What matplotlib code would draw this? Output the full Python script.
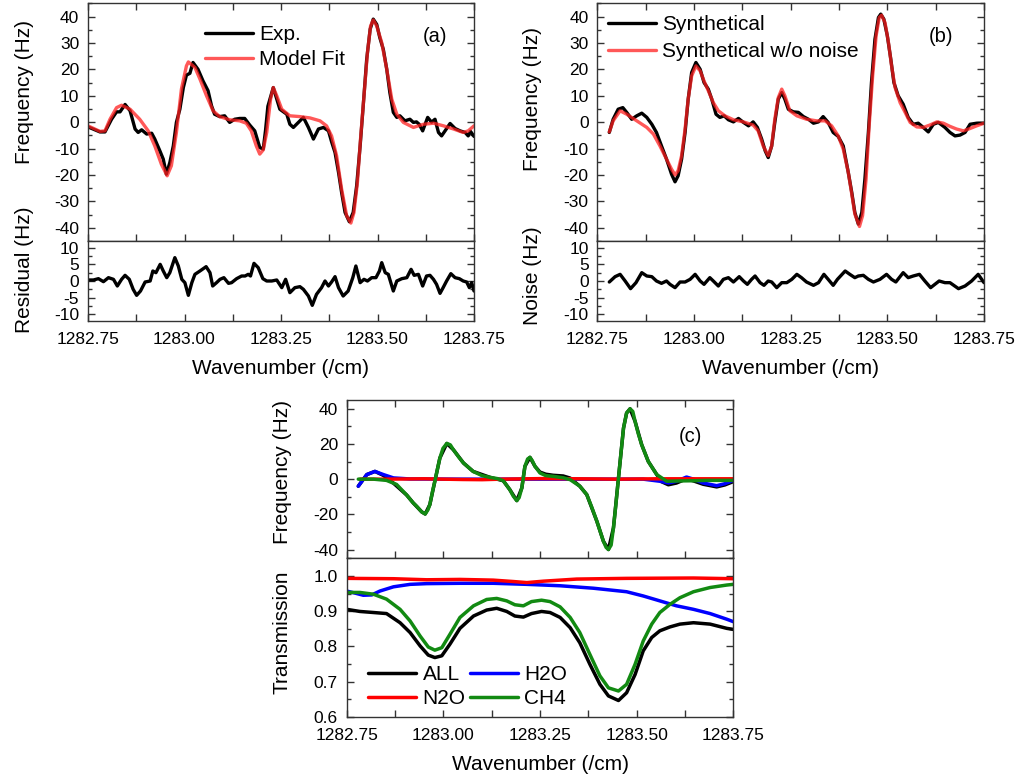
import numpy as np
import matplotlib
matplotlib.use('Agg')
import matplotlib.pyplot as plt
from matplotlib.ticker import MultipleLocator, FormatStrFormatter

# ---------------- data ----------------
# (a) experiment vs model fit
a_exp_x = [1282.750, 1282.781, 1282.794, 1282.811, 1282.824, 1282.833, 1282.846, 1282.859, 1282.872, 1282.880,
           1282.889, 1282.902, 1282.915, 1282.923, 1282.936, 1282.945, 1282.953, 1282.962, 1282.971, 1282.979,
           1282.988, 1282.997, 1283.005, 1283.014, 1283.022, 1283.035, 1283.048, 1283.061, 1283.070, 1283.078,
           1283.091, 1283.104, 1283.117, 1283.130, 1283.143, 1283.156, 1283.169, 1283.182, 1283.195, 1283.204,
           1283.210, 1283.216, 1283.230, 1283.247, 1283.265, 1283.273, 1283.282, 1283.295, 1283.308, 1283.321,
           1283.334, 1283.347, 1283.360, 1283.373, 1283.381, 1283.390, 1283.399, 1283.407, 1283.416, 1283.427,
           1283.437, 1283.446, 1283.455, 1283.463, 1283.472, 1283.481, 1283.489, 1283.498, 1283.506, 1283.515,
           1283.524, 1283.532, 1283.541, 1283.550, 1283.558, 1283.571, 1283.584, 1283.593, 1283.601, 1283.608,
           1283.617, 1283.630, 1283.640, 1283.649, 1283.658, 1283.666, 1283.675, 1283.688, 1283.701, 1283.714,
           1283.727, 1283.735, 1283.741, 1283.750]
a_exp_y = [-1.8, -3.7, -3.7, 1.1, 3.9, 3.9, 6.7, 4.3, -2.6, -3.9,
           -2.9, -4.5, -4.2, -6.4, -10.8, -14.0, -19.7, -15.3, -9.0, -0.1,
           4.9, 13.1, 17.8, 18.5, 22.6, 20.0, 15.6, 11.9, 6.2, 3.0,
           2.1, 2.4, -0.1, 1.1, 1.4, 1.4, -1.1, -3.3, -9.6, -10.2,
           -3.0, 6.0, 13.1, 4.9, 3.0, -0.8, -2.0, -0.1, 1.8, -2.0,
           -6.4, -2.6, -2.0, -3.3, -7.4, -11.5, -19.0, -26.6, -34.2, -37.7,
           -34.2, -24.1, -9.0, 6.2, 23.8, 35.2, 39.0, 37.0, 32.0, 27.6,
           20.0, 11.2, 3.7, 1.8, 2.4, 0.5, 1.1, -0.1, 0.1, -0.8,
           -3.3, 1.8, 0.0, 1.1, -3.9, -5.2, -3.3, -0.5, -2.4, -3.3,
           -3.9, -5.2, -3.5, -5.4]

a_fit_x = [1282.750, 1282.781, 1282.794, 1282.807, 1282.824, 1282.837, 1282.859, 1282.884, 1282.906, 1282.923,
           1282.940, 1282.955, 1282.966, 1282.979, 1282.992, 1283.005, 1283.010, 1283.027, 1283.040, 1283.057,
           1283.074, 1283.091, 1283.117, 1283.143, 1283.160, 1283.173, 1283.186, 1283.195, 1283.204, 1283.213,
           1283.223, 1283.230, 1283.239, 1283.252, 1283.273, 1283.299, 1283.325, 1283.351, 1283.368, 1283.381,
           1283.394, 1283.407, 1283.420, 1283.431, 1283.439, 1283.448, 1283.456, 1283.465, 1283.474, 1283.482,
           1283.489, 1283.498, 1283.511, 1283.524, 1283.537, 1283.550, 1283.567, 1283.593, 1283.619, 1283.645,
           1283.671, 1283.697, 1283.722, 1283.735, 1283.750]
a_fit_y = [-1.4, -3.5, -3.3, 1.1, 5.5, 6.4, 4.9, 1.1, -3.3, -9.0,
           -15.9, -20.3, -16.5, -3.9, 12.5, 21.3, 22.8, 20.7, 16.3, 10.0,
           4.3, 2.1, 0.9, 0.5, -0.4, -3.3, -9.0, -12.1, -10.5, -3.9,
           8.7, 13.1, 10.0, 4.9, 2.4, 2.1, 1.6, 0.5, -1.4, -5.2,
           -12.7, -25.3, -35.4, -38.2, -34.2, -22.8, -6.4, 10.0, 26.4, 36.4,
           38.7, 36.4, 30.1, 20.0, 8.7, 3.0, -0.1, -2.0, -0.8, -0.4,
           -1.4, -2.6, -3.9, -3.3, -1.4]

a_res_x = [1282.750, 1282.764, 1282.777, 1282.790, 1282.803, 1282.816, 1282.826, 1282.837, 1282.846, 1282.857,
           1282.867, 1282.876, 1282.886, 1282.898, 1282.911, 1282.918, 1282.926, 1282.937, 1282.945, 1282.954,
           1282.962, 1282.975, 1282.984, 1282.993, 1283.001, 1283.010, 1283.019, 1283.027, 1283.040, 1283.056,
           1283.066, 1283.073, 1283.083, 1283.092, 1283.102, 1283.114, 1283.122, 1283.135, 1283.148, 1283.157,
           1283.165, 1283.171, 1283.180, 1283.191, 1283.203, 1283.213, 1283.226, 1283.239, 1283.252, 1283.262,
           1283.273, 1283.286, 1283.299, 1283.308, 1283.321, 1283.331, 1283.342, 1283.355, 1283.364, 1283.373,
           1283.381, 1283.390, 1283.399, 1283.411, 1283.424, 1283.436, 1283.444, 1283.455, 1283.465, 1283.474,
           1283.485, 1283.496, 1283.505, 1283.511, 1283.520, 1283.528, 1283.541, 1283.550, 1283.563, 1283.576,
           1283.587, 1283.595, 1283.606, 1283.617, 1283.627, 1283.636, 1283.645, 1283.653, 1283.662, 1283.670,
           1283.679, 1283.690, 1283.701, 1283.712, 1283.722, 1283.731, 1283.738, 1283.744, 1283.750]
a_res_y = [0.3, 0.3, 0.7, -0.2, 1.0, 0.5, -1.5, 0.5, 1.7, 0.5,
           -2.5, -4.3, -3.0, -0.3, 0.0, 3.0, 2.5, 5.0, 3.0, 1.0,
           2.5, 7.0, 4.5, 0.5, -0.5, -4.3, -0.5, 2.0, 3.0, 4.3,
           2.5, -1.5, -0.5, 0.5, 1.0, -0.7, -0.5, 0.7, 1.5, 1.5,
           2.0, 1.5, 5.3, 4.0, 0.7, 0.0, 0.0, 0.3, -2.0, 0.5,
           -3.5, -2.0, -1.7, -2.5, -4.5, -7.3, -4.0, -2.0, 0.0, -1.5,
           -0.3, 1.3, -2.0, -4.5, -3.0, 1.0, 4.5, -0.5, 0.5, 0.0,
           1.0, 1.0, 3.0, 5.5, 2.5, 2.0, -3.0, 0.0, 0.7, 1.0,
           3.5, 1.7, 2.0, -1.5, 1.5, 1.7, 0.5, -1.0, -3.7, -2.0,
           0.0, 2.2, 1.0, 0.7, 0.0, -0.3, -2.0, -0.5, -3.0]

# (b) synthetic data
b_syn_x = [1282.781, 1282.791, 1282.804, 1282.816, 1282.826, 1282.839, 1282.852, 1282.865, 1282.878, 1282.891,
           1282.903, 1282.916, 1282.929, 1282.942, 1282.951, 1282.959, 1282.968, 1282.977, 1282.985, 1282.994,
           1283.005, 1283.016, 1283.026, 1283.037, 1283.046, 1283.057, 1283.067, 1283.078, 1283.089, 1283.102,
           1283.115, 1283.128, 1283.141, 1283.153, 1283.164, 1283.175, 1283.184, 1283.192, 1283.201, 1283.209,
           1283.218, 1283.227, 1283.235, 1283.244, 1283.257, 1283.270, 1283.283, 1283.296, 1283.309, 1283.322,
           1283.334, 1283.347, 1283.360, 1283.373, 1283.386, 1283.399, 1283.408, 1283.416, 1283.425, 1283.434,
           1283.442, 1283.451, 1283.459, 1283.468, 1283.477, 1283.483, 1283.491, 1283.500, 1283.509, 1283.517,
           1283.528, 1283.541, 1283.554, 1283.567, 1283.580, 1283.593, 1283.606, 1283.619, 1283.632, 1283.649,
           1283.662, 1283.675, 1283.688, 1283.701, 1283.714, 1283.731, 1283.750]
b_syn_y = [-3.9, 1.1, 4.9, 5.5, 3.7, 1.1, 2.4, 3.4, 1.8, -0.8,
           -3.9, -9.0, -14.0, -19.7, -22.6, -20.3, -14.0, -3.9, 8.7, 18.8,
           22.6, 20.0, 15.0, 12.5, 8.7, 3.0, 1.8, 2.4, 0.9, 0.1,
           1.4, -0.1, -1.4, 0.1, -2.0, -6.4, -10.8, -13.4, -9.0, -0.1,
           8.7, 11.2, 8.7, 4.9, 3.9, 3.7, 2.1, 1.1, -0.4, 0.1,
           2.1, -0.1, -3.9, -5.4, -9.0, -19.0, -26.6, -34.2, -38.6, -34.2,
           -21.6, -3.9, 15.0, 31.4, 39.6, 40.9, 39.0, 32.7, 23.8, 15.0,
           10.0, 6.8, 1.8, -0.8, -0.4, -2.0, -3.7, -0.8, -0.1, -2.0,
           -3.9, -5.2, -4.9, -3.9, -0.8, -0.4, -0.4]

b_clean_x = [1282.781, 1282.791, 1282.809, 1282.826, 1282.852, 1282.878, 1282.895, 1282.912, 1282.929, 1282.942,
             1282.951, 1282.959, 1282.968, 1282.977, 1282.985, 1282.994, 1283.005, 1283.016, 1283.026, 1283.037,
             1283.050, 1283.063, 1283.080, 1283.102, 1283.128, 1283.153, 1283.166, 1283.179, 1283.192, 1283.201,
             1283.209, 1283.218, 1283.227, 1283.235, 1283.248, 1283.266, 1283.291, 1283.317, 1283.339, 1283.356,
             1283.373, 1283.386, 1283.399, 1283.408, 1283.416, 1283.428, 1283.436, 1283.445, 1283.453, 1283.462,
             1283.471, 1283.479, 1283.485, 1283.494, 1283.503, 1283.511, 1283.520, 1283.533, 1283.546, 1283.559,
             1283.576, 1283.593, 1283.610, 1283.628, 1283.645, 1283.662, 1283.679, 1283.697, 1283.714, 1283.731,
             1283.750]
b_clean_y = [-3.7, 0.5, 4.3, 3.0, 0.5, -2.0, -4.5, -9.0, -14.0, -17.8,
             -20.0, -18.4, -12.7, -2.6, 8.7, 17.5, 21.3, 19.4, 15.6, 11.9,
             7.4, 4.3, 2.4, 0.9, 0.1, -1.1, -3.3, -9.0, -12.7, -9.0,
             1.1, 9.3, 12.5, 10.0, 4.3, 2.4, 1.1, 0.5, 0.5, -1.4,
             -5.2, -10.2, -19.0, -27.2, -34.8, -39.5, -35.4, -21.6, -1.4, 17.5,
             32.7, 39.6, 40.5, 37.7, 30.1, 21.3, 13.1, 7.4, 3.7, -0.1,
             -1.8, -2.0, -1.1, 0.1, -0.4, -1.6, -2.6, -3.3, -2.4, -1.4,
             -0.4]

b_noise_x = [1282.781, 1282.796, 1282.809, 1282.822, 1282.836, 1282.850, 1282.865, 1282.878, 1282.891, 1282.903,
             1282.916, 1282.929, 1282.938, 1282.951, 1282.964, 1282.977, 1282.990, 1283.003, 1283.016, 1283.026,
             1283.041, 1283.050, 1283.063, 1283.076, 1283.089, 1283.102, 1283.117, 1283.128, 1283.138, 1283.149,
             1283.158, 1283.171, 1283.181, 1283.192, 1283.201, 1283.214, 1283.227, 1283.240, 1283.253, 1283.266,
             1283.278, 1283.291, 1283.309, 1283.322, 1283.336, 1283.347, 1283.360, 1283.371, 1283.391, 1283.403,
             1283.416, 1283.425, 1283.438, 1283.451, 1283.464, 1283.481, 1283.498, 1283.511, 1283.522, 1283.541,
             1283.554, 1283.567, 1283.583, 1283.597, 1283.612, 1283.623, 1283.634, 1283.649, 1283.662, 1283.684,
             1283.701, 1283.718, 1283.735, 1283.750]
b_noise_y = [-0.3, 1.3, 2.0, 0.0, -2.3, -0.5, 2.5, 1.5, 1.3, 0.0,
             -0.7, 0.0, -1.0, -2.0, -0.3, -0.3, 0.5, 2.0, 0.0, -1.0,
             1.0, 0.0, -1.5, 0.5, 1.0, -0.3, 1.3, 0.0, -1.0, 0.5,
             1.5, -0.5, -1.3, 0.0, -0.3, -2.0, -0.5, -0.5, 0.5, 2.0,
             1.0, -0.3, -1.3, -0.5, 2.0, 0.5, -1.3, 0.5, 3.0, 2.0,
             1.0, 1.5, 1.7, 0.5, -0.3, 0.5, 2.0, 0.5, -0.3, 2.5,
             1.0, 1.5, 2.0, 0.0, -2.0, -1.0, 0.0, -0.5, -0.5, -2.3,
             -1.5, 0.0, 2.0, -0.5]

# (c) components: frequency
c_ch4_x = [1282.780, 1282.819, 1282.853, 1282.879, 1282.905, 1282.922, 1282.931, 1282.944, 1282.953, 1282.960,
           1282.965, 1282.972, 1282.978, 1282.985, 1282.991, 1282.999, 1283.009, 1283.018, 1283.026, 1283.040,
           1283.052, 1283.077, 1283.100, 1283.121, 1283.140, 1283.155, 1283.172, 1283.181, 1283.190, 1283.196,
           1283.203, 1283.211, 1283.218, 1283.224, 1283.230, 1283.237, 1283.250, 1283.265, 1283.284, 1283.310,
           1283.328, 1283.353, 1283.371, 1283.384, 1283.397, 1283.414, 1283.421, 1283.427, 1283.434, 1283.440,
           1283.446, 1283.453, 1283.460, 1283.466, 1283.474, 1283.483, 1283.490, 1283.496, 1283.504, 1283.513,
           1283.530, 1283.552, 1283.578, 1283.612, 1283.647, 1283.681, 1283.716, 1283.750]
c_ch4_y = [0.0, 0.0, -0.7, -3.0, -9.0, -13.5, -15.4, -18.6, -19.8, -17.5,
           -14.5, -7.0, -1.2, 6.0, 12.0, 17.5, 20.3, 19.5, 16.7, 12.5,
           9.2, 4.4, 2.0, 1.0, 0.3, -0.9, -6.0, -9.7, -12.2, -10.5,
           -5.0, 7.3, 11.5, 12.4, 10.5, 7.3, 3.5, 2.0, 1.6, 0.8,
           -0.3, -4.0, -8.8, -16.0, -23.9, -35.3, -38.8, -40.0, -37.5, -27.7,
           -15.0, 0.7, 16.0, 29.0, 37.6, 40.0, 38.5, 32.8, 26.0, 19.6,
           10.1, 2.6, -1.2, -1.0, -0.9, -0.7, -0.7, -0.7]

c_all_x = [1282.780, 1282.802, 1282.823, 1282.845, 1282.871, 1282.905, 1282.922, 1282.944, 1282.953, 1282.965,
           1282.978, 1282.991, 1283.009, 1283.026, 1283.052, 1283.077, 1283.121, 1283.155, 1283.172, 1283.190,
           1283.203, 1283.211, 1283.224, 1283.237, 1283.250, 1283.265, 1283.284, 1283.310, 1283.328, 1283.353,
           1283.371, 1283.397, 1283.414, 1283.427, 1283.440, 1283.453, 1283.466, 1283.474, 1283.483, 1283.496,
           1283.513, 1283.530, 1283.552, 1283.565, 1283.582, 1283.603, 1283.629, 1283.647, 1283.672, 1283.707,
           1283.728, 1283.750]
c_all_y = [-4.0, 2.6, 4.4, 2.1, -2.3, -9.0, -13.5, -18.6, -19.8, -14.5,
           -1.2, 12.0, 20.3, 16.7, 9.2, 4.4, 1.0, -0.9, -6.0, -12.2,
           -5.0, 7.3, 12.4, 7.3, 4.0, 2.8, 2.2, 1.8, 0.6, -4.0,
           -8.8, -23.9, -35.3, -40.0, -27.7, 0.7, 29.0, 37.6, 40.0, 32.8,
           19.6, 10.1, 2.6, -1.5, -3.2, -2.2, 0.2, -1.0, -2.9, -4.4,
           -3.3, -1.4]

c_h2o_x = [1282.780, 1282.802, 1282.823, 1282.845, 1282.871, 1282.914, 1283.043, 1283.216, 1283.388, 1283.517,
           1283.560, 1283.582, 1283.603, 1283.629, 1283.647, 1283.672, 1283.707, 1283.728, 1283.750]
c_h2o_y = [-4.0, 2.6, 4.4, 2.6, 0.7, 0.1, 0.0, 0.0, 0.0, 0.0,
           -1.2, -2.2, -1.2, 1.2, 0.0, -2.2, -3.7, -2.6, -0.7]

c_n2o_x = [1282.785, 1282.850, 1282.950, 1283.050, 1283.100, 1283.150, 1283.250, 1283.350, 1283.450, 1283.550,
           1283.650, 1283.750]
c_n2o_y = [0.0, 0.0, 0.2, -0.2, -0.3, 0.0, 0.3, 0.2, 0.0, 0.2, 0.2, 0.2]

# (c) components: transmission
t_n2o_x = [1282.750, 1282.871, 1282.957, 1283.043, 1283.129, 1283.181, 1283.216, 1283.259, 1283.345, 1283.474,
           1283.647, 1283.750]
t_n2o_y = [0.993, 0.992, 0.989, 0.990, 0.988, 0.984, 0.981, 0.985, 0.991, 0.993, 0.994, 0.992]

t_h2o_x = [1282.750, 1282.772, 1282.793, 1282.815, 1282.836, 1282.871, 1282.914, 1282.957, 1283.043, 1283.129,
           1283.216, 1283.302, 1283.388, 1283.431, 1283.474, 1283.517, 1283.560, 1283.603, 1283.647, 1283.690,
           1283.733, 1283.750]
t_h2o_y = [0.957, 0.951, 0.945, 0.946, 0.957, 0.969, 0.976, 0.978, 0.979, 0.979,
           0.976, 0.972, 0.965, 0.960, 0.955, 0.943, 0.929, 0.915, 0.905, 0.893,
           0.877, 0.870]

t_x = [1282.750, 1282.784, 1282.819, 1282.853, 1282.888, 1282.914, 1282.940, 1282.961, 1282.978, 1282.996,
       1283.017, 1283.043, 1283.078, 1283.112, 1283.138, 1283.164, 1283.185, 1283.207, 1283.228, 1283.254,
       1283.276, 1283.302, 1283.328, 1283.353, 1283.379, 1283.405, 1283.427, 1283.453, 1283.474, 1283.496,
       1283.517, 1283.539, 1283.560, 1283.586, 1283.612, 1283.647, 1283.690, 1283.733, 1283.750]
t_ch4_y = [0.953, 0.953, 0.948, 0.934, 0.905, 0.872, 0.829, 0.798, 0.789, 0.796,
           0.834, 0.882, 0.915, 0.933, 0.936, 0.929, 0.918, 0.915, 0.927, 0.931,
           0.927, 0.912, 0.882, 0.839, 0.777, 0.716, 0.682, 0.673, 0.692, 0.749,
           0.815, 0.863, 0.896, 0.919, 0.938, 0.955, 0.967, 0.974, 0.976]
t_all_y = [0.905, 0.899, 0.896, 0.893, 0.867, 0.839, 0.801, 0.775, 0.768, 0.773,
           0.806, 0.851, 0.886, 0.903, 0.908, 0.899, 0.886, 0.883, 0.893, 0.899,
           0.896, 0.882, 0.853, 0.810, 0.749, 0.692, 0.659, 0.646, 0.668, 0.720,
           0.787, 0.825, 0.844, 0.855, 0.863, 0.867, 0.863, 0.851, 0.848]

# ---------------- figure ----------------
plt.rcParams['font.family'] = ['Liberation Sans', 'DejaVu Sans']
plt.rcParams['axes.unicode_minus'] = False
plt.rcParams['lines.solid_joinstyle'] = 'round'
plt.rcParams['lines.solid_capstyle'] = 'round'

W, H = 1018, 780
fig = plt.figure(figsize=(W / 100, H / 100), dpi=100)


def rect(l, t, r, b):
    return [l / W, 1 - b / H, (r - l) / W, (b - t) / H]


SPINE = '#333333'
RED = '#ff2020'


def style(ax, top_ticks=True, bottom_labels=False):
    ax.set_xlim(1282.75, 1283.75)
    ax.xaxis.set_major_locator(MultipleLocator(0.25))
    ax.xaxis.set_minor_locator(MultipleLocator(0.125))
    ax.xaxis.set_major_formatter(FormatStrFormatter('%.2f'))
    ax.tick_params(which='both', direction='in', top=top_ticks, right=True, bottom=True, left=True,
                   labelsize=12.5, width=1, color=SPINE)
    ax.tick_params(which='major', length=5)
    ax.tick_params(which='minor', length=3)
    ax.tick_params(axis='x', which='minor', length=5)
    ax.tick_params(axis='x', pad=8)
    ax.tick_params(axis='y', pad=6.3)
    ax.tick_params(labelbottom=bottom_labels)
    for s in ax.spines.values():
        s.set_linewidth(1.0)
        s.set_color(SPINE)


ax_a = fig.add_axes(rect(88, 3.3, 474, 241))
ax_ar = fig.add_axes(rect(88, 241, 474, 321))
ax_b = fig.add_axes(rect(597.3, 3.3, 984, 241))
ax_br = fig.add_axes(rect(597.3, 241, 984, 321))
ax_c = fig.add_axes(rect(346.7, 400, 733.3, 558.3))
ax_cr = fig.add_axes(rect(346.7, 558.3, 733.3, 716.7))

for ax in (ax_a, ax_b):
    style(ax, True, False)
    ax.set_ylim(-45, 45)
    ax.yaxis.set_major_locator(MultipleLocator(10))
    ax.yaxis.set_minor_locator(MultipleLocator(5))
for ax in (ax_ar, ax_br):
    style(ax, False, True)
    ax.set_ylim(-12, 12)
    ax.yaxis.set_major_locator(MultipleLocator(5))
    ax.yaxis.set_minor_locator(MultipleLocator(2.5))

style(ax_c, True, False)
ax_c.set_ylim(-45, 45)
ax_c.yaxis.set_major_locator(MultipleLocator(20))
ax_c.yaxis.set_minor_locator(MultipleLocator(10))
style(ax_cr, False, True)
ax_cr.set_ylim(0.6, 1.05)
ax_cr.yaxis.set_major_locator(MultipleLocator(0.1))
ax_cr.yaxis.set_minor_locator(MultipleLocator(0.05))
ax_cr.yaxis.set_major_formatter(FormatStrFormatter('%.1f'))

LW = 2.4
# (a)
ax_a.plot(a_exp_x, a_exp_y, color='black', lw=LW, label='Exp.')
ax_a.plot(a_fit_x, a_fit_y, color=RED, alpha=0.75, lw=2.4, label='Model Fit')
ax_ar.plot(a_res_x, a_res_y, color='black', lw=LW)
ax_a.legend(loc='upper left', bbox_to_anchor=(0.303, 0.909), frameon=False, fontsize=15,
            handlelength=2.3, handletextpad=0.3, labelspacing=0.3, borderpad=0, borderaxespad=0)

# (b)
ax_b.plot(b_syn_x, b_syn_y, color='black', lw=LW, label='Synthetical')
ax_b.plot(b_clean_x, b_clean_y, color=RED, alpha=0.75, lw=2.4, label='Synthetical w/o noise')
ax_br.plot(b_noise_x, b_noise_y, color='black', lw=LW)
ax_b.legend(loc='upper left', bbox_to_anchor=(0.028, 0.951), frameon=False, fontsize=15,
            handlelength=2.3, handletextpad=0.3, labelspacing=0.4, borderpad=0, borderaxespad=0)

# (c)
GREEN = '#128a12'
BLUE = '#0000ff'
RED2 = '#ff0000'
LW2 = 2.5
ax_c.plot(c_all_x, c_all_y, color='black', lw=LW2)
ax_c.plot(c_h2o_x, c_h2o_y, color=BLUE, lw=LW2)
ax_c.plot(c_n2o_x, c_n2o_y, color=RED2, lw=LW2)
ax_c.plot(c_ch4_x, c_ch4_y, color=GREEN, lw=LW2)

l_all, = ax_cr.plot(t_x, t_all_y, color='black', lw=LW2, label='ALL')
l_h2o, = ax_cr.plot(t_h2o_x, t_h2o_y, color=BLUE, lw=LW2, label='H2O')
l_n2o, = ax_cr.plot(t_n2o_x, t_n2o_y, color=RED2, lw=LW2, label='N2O')
l_ch4, = ax_cr.plot(t_x, t_ch4_y, color=GREEN, lw=LW2, label='CH4')
ax_cr.legend(handles=[l_all, l_n2o, l_h2o, l_ch4], ncol=2, loc='upper left',
             bbox_to_anchor=(0.056, 0.326), frameon=False, fontsize=15,
             handlelength=2.3, handletextpad=0.3, labelspacing=0.25, columnspacing=0.2,
             borderpad=0, borderaxespad=0)

# panel labels
fig.text(435 / W, 1 - 36 / H, '(a)', fontsize=14.5, ha='center', va='center')
fig.text(941 / W, 1 - 36 / H, '(b)', fontsize=14.5, ha='center', va='center')
fig.text(690 / W, 1 - 437 / H, '(c)', fontsize=14.5, ha='center', va='center')


# axis labels
def ylab(x, y, s):
    fig.text(x / W, 1 - y / H, s, fontsize=15, rotation=90, ha='center', va='center')


def xlab(x, y, s):
    fig.text(x / W, 1 - y / H, s, fontsize=15, ha='center', va='center')


ylab(24, 92.5, 'Frequency (Hz)')
ylab(24, 270, 'Residual (Hz)')
ylab(533, 99, 'Frequency (Hz)')
ylab(533, 276, 'Noise (Hz)')
ylab(282, 471.5, 'Frequency (Hz)')
ylab(282, 632.5, 'Transmission')
xlab(281, 369, 'Wavenumber (/cm)')
xlab(790, 369, 'Wavenumber (/cm)')
xlab(540, 765, 'Wavenumber (/cm)')

fig.savefig('out.png', dpi=100)
